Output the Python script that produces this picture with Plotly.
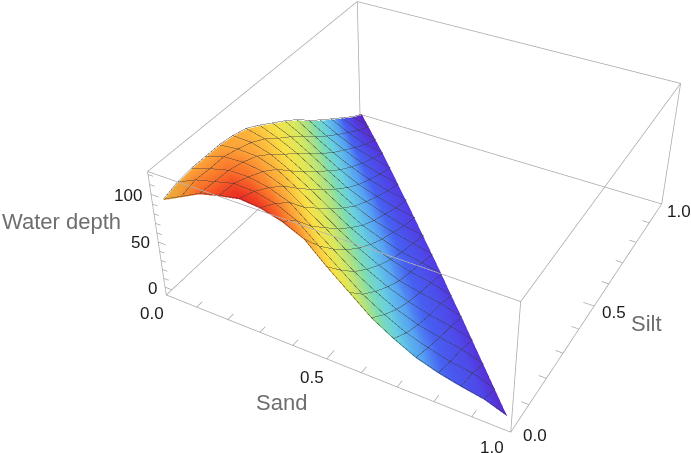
import math
import plotly.graph_objects as go
sand=[0.02,0.08,0.14,0.20,0.26,0.32,0.38,0.44,0.50,0.56,0.62,0.68,0.74,0.80,0.86,0.92,0.98]
silt=[0.02,0.08,0.14,0.20,0.26,0.32,0.38,0.44,0.50,0.56,0.62,0.68,0.74,0.80,0.86,0.92,0.98]
depth=[
[92,97,99,99,99,97,93,85,76,67,57,45,34,24,14,4,-4],
[102,106,105,105,101,96,88,77,67,56,44,33,23,14,5,-2],
[112,111,110,106,100,90,78,67,55,43,32,23,14,6,0],
[117,116,110,103,93,79,66,54,42,31,22,14,8,2],
[121,115,106,95,80,66,53,41,30,21,14,8,3],
[119,110,98,80,66,52,40,29,21,14,8,3],
[113,100,81,66,51,39,28,20,14,8,4],
[103,82,65,50,38,28,20,14,8,4],
[83,65,49,37,27,19,13,9,4],
[65,48,36,26,18,13,9,4],
[47,35,25,18,13,9,4],
[34,24,17,12,9,3],
[23,17,12,8,3],
[16,11,8,2],
[11,8,1],
[7,0],
[-1]]
sand_ticks=[0.0,0.1,0.2,0.3,0.4,0.5,0.6,0.7,0.8,0.9,1.0]
silt_ticks=[0.0,0.1,0.2,0.3,0.4,0.5,0.6,0.7,0.8,0.9,1.0]
depth_ticks=[0,10,20,30,40,50,60,70,80,90,100,110,120]
W,H=691,453
zmin,zmax=-9,123
F=1248.25
vx,vy,vz,I,Jj,K=[],[],[],[],[],[]
idx={}
for i,row in enumerate(depth):
    for j,z in enumerate(row):
        idx[i,j]=len(vx);vx.append(sand[i]);vy.append(silt[j]);vz.append(z)
for i,row in enumerate(depth):
    for j in range(len(row)-1):
        I.append(idx[i,j]);Jj.append(idx[i,j+1]);K.append(idx[i+1,j])
        if (i+1,j+1) in idx:
            I.append(idx[i+1,j]);Jj.append(idx[i,j+1]);K.append(idx[i+1,j+1])
cs=[[0,'#5a14b8'],[.08,'#4a38e4'],[.15,'#3f5cf2'],[.2,'#4f9ff2'],[.28,'#62cde0'],[.354,'#78dcb0'],[.417,'#a8e080'],[.512,'#d8e858'],[.63,'#f8e040'],[.709,'#fcc838'],[.827,'#fca030'],[.906,'#fa6a20'],[1,'#e81818']]
fig=go.Figure()
fig.add_trace(go.Mesh3d(x=vx,y=vy,z=vz,i=I,j=Jj,k=K,intensity=vz,colorscale=cs,cmin=-5,cmax=122,showscale=False,opacity=.96,flatshading=False,
  lighting=dict(ambient=.85,diffuse=.25,specular=0,roughness=1,fresnel=0),hoverinfo='skip'))
lx,ly,lz=[],[],[]
for i,row in enumerate(depth):
    for j,z in enumerate(row):
        lx.append(sand[i]);ly.append(silt[j]);lz.append(z+1)
    lx.append(None);ly.append(None);lz.append(None)
for j in range(17):
    for i in range(17-j):
        lx.append(sand[i]);ly.append(silt[j]);lz.append(depth[i][j]+1)
    lx.append(None);ly.append(None);lz.append(None)
fig.add_trace(go.Scatter3d(x=lx,y=ly,z=lz,mode='lines',line=dict(color='#3a3a3a',width=1),opacity=.85,hoverinfo='skip',showlegend=False))
bx,by,bz=[],[],[]
def seg(a,b):
    bx.extend([a[0],b[0],None]);by.extend([a[1],b[1],None]);bz.extend([a[2],b[2],None])
for p in (0,1):
    for q in (0,1):
        seg((0,p,[zmin,zmax][q]),(1,p,[zmin,zmax][q]))
        seg((p,0,[zmin,zmax][q]),(p,1,[zmin,zmax][q]))
        seg((p,q,zmin),(p,q,zmax))
for v in sand_ticks:
    seg((v,0,zmin),(v,.035 if v in (0,.5,1) else .024,zmin))
for v in silt_ticks:
    seg((1,v,zmin),(1-(.03 if v in (0,.5,1) else .02),v,zmin))
for v in depth_ticks:
    seg((0,0,v),(.024 if v%50==0 else .016,0,v))
fig.add_trace(go.Scatter3d(x=bx,y=by,z=bz,mode='lines',line=dict(color='#a8a8a8',width=1.5),hoverinfo='skip',showlegend=False))
ax=lambda r:dict(range=r,autorange=False,visible=False,showspikes=False)
fig.update_layout(width=W,height=H,margin=dict(l=0,r=0,t=0,b=0),paper_bgcolor='white',showlegend=False,
 scene=dict(domain=dict(x=[0,1],y=[0,1]),xaxis=ax([-.002,1.002]),yaxis=ax([-.002,1.002]),zaxis=ax([zmin-.3,zmax+.3]),
   aspectmode='manual',aspectratio=dict(x=1,y=1.0137,z=.3992),
   camera=dict(projection=dict(type='perspective'),eye=dict(x=1.2483,y=-2.3794,z=1.9348),center=dict(x=-.2717,y=.0353,z=-.2497),up=dict(x=-.1135,y=.2429,z=1))))
def lab(t,x,y,size,color):
    fig.add_annotation(text=t,x=x/W,y=1-y/H,xref='paper',yref='paper',showarrow=False,xanchor='center',yanchor='middle',font=dict(family='Liberation Sans',size=size,color=color))
for t,x,y in [('100',128,195),('50',140,243),('0',152,288),('0.0',152,313),('0.5',312,377),('1.0',492,447),('0.0',535,435),('0.5',614,312),('1.0',679,212)]:
    lab(t,x,y,17,'#1a1a1a')
for t,x,y in [('Water depth',61,221),('Sand',281,402),('Silt',646,323)]:
    lab(t,x,y,22,'#6e6e6e')
fov=2*math.atan(H/2/F)
post="""
document.body.style.margin='0';
var gd=document.getElementById('{plot_id}');
(function t(){var s=gd._fullLayout&&gd._fullLayout.scene&&gd._fullLayout.scene._scene;
 if(s&&s.glplot){s.glplot.fovy=%f;s.glplot.redraw();setTimeout(function(){s.glplot.redraw();},200);}else{setTimeout(t,20);}})();
"""%fov
fig.write_html('out.html',post_script=post,config=dict(displayModeBar=False))
